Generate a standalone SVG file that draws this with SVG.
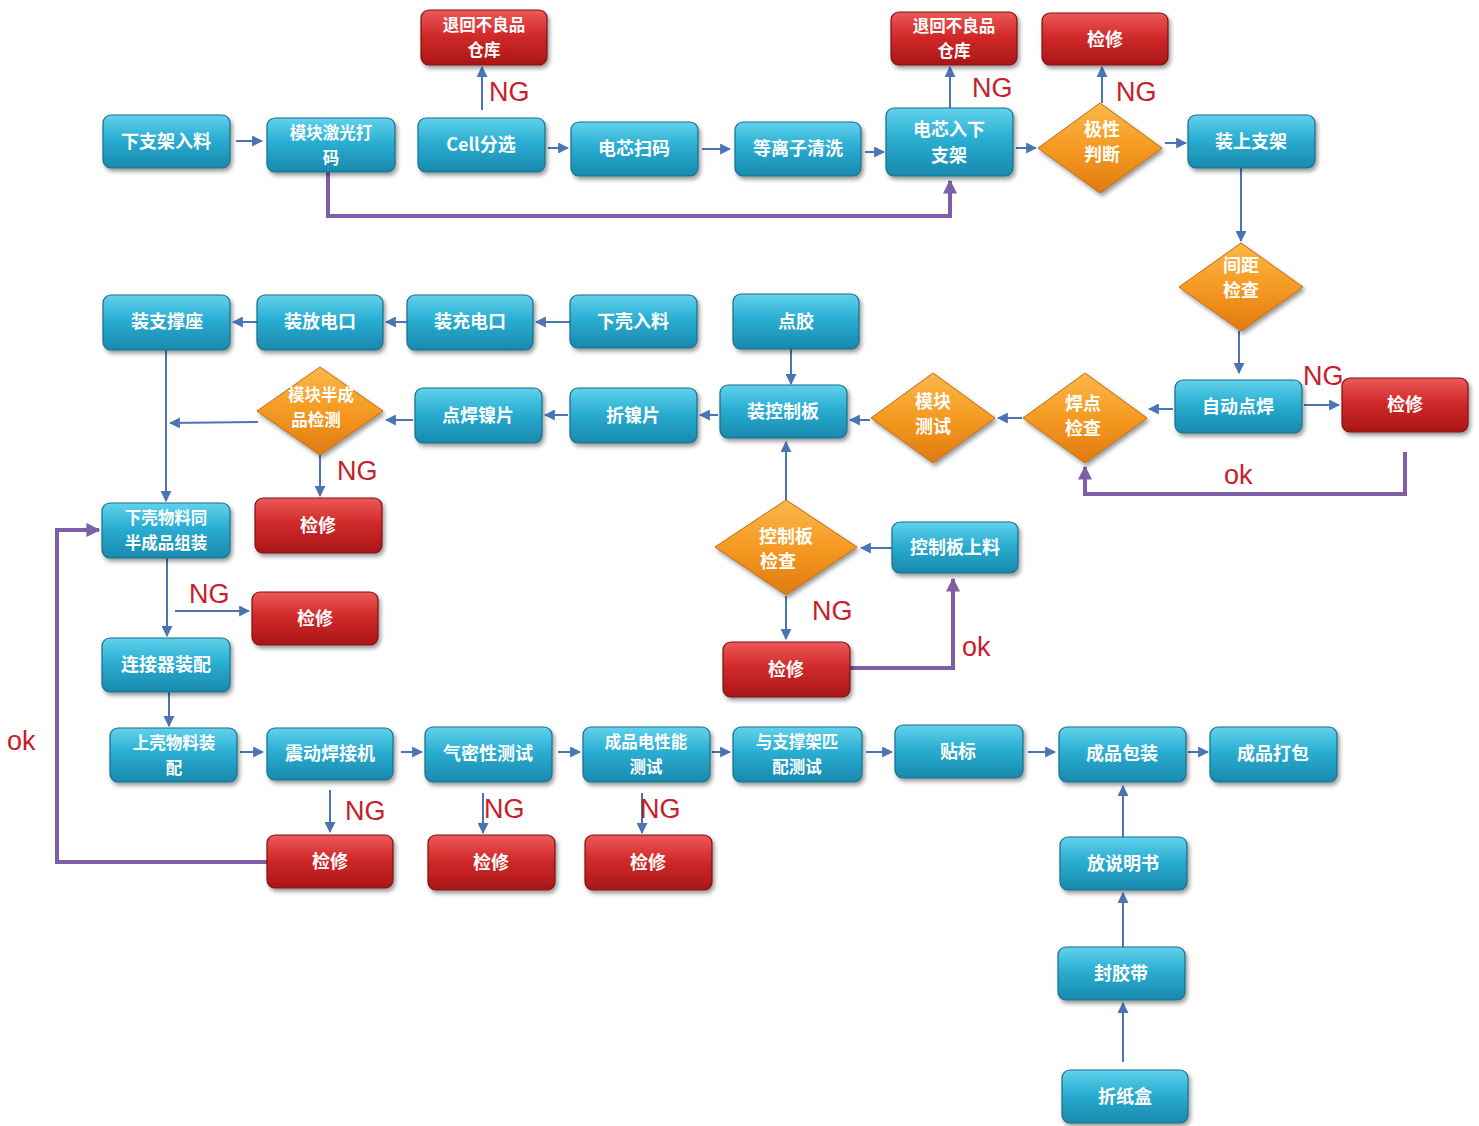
<svg xmlns="http://www.w3.org/2000/svg" width="1479" height="1126" viewBox="0 0 1479 1126">
<defs>
<linearGradient id="gT" x1="0" y1="0" x2="0" y2="1"><stop offset="0" stop-color="#62d2ec"/><stop offset="0.45" stop-color="#2aaed2"/><stop offset="1" stop-color="#1889ad"/></linearGradient>
<linearGradient id="gR" x1="0" y1="0" x2="0" y2="1"><stop offset="0" stop-color="#ec5a5a"/><stop offset="0.45" stop-color="#d22a2a"/><stop offset="1" stop-color="#a91616"/></linearGradient>
<linearGradient id="gO" x1="0" y1="0" x2="0" y2="1"><stop offset="0" stop-color="#fbb84a"/><stop offset="0.5" stop-color="#f59a22"/><stop offset="1" stop-color="#e07a10"/></linearGradient>
<filter id="sh" x="-20%" y="-20%" width="140%" height="150%"><feDropShadow dx="2" dy="3" stdDeviation="2" flood-color="#000" flood-opacity="0.4"/></filter>
<marker id="ab" viewBox="0 0 10 10" refX="9" refY="5" markerWidth="11" markerHeight="11" markerUnits="userSpaceOnUse" orient="auto"><path d="M0,0 L10,5 L0,10 z" fill="#4a74b4"/></marker>
<marker id="ap" viewBox="0 0 10 10" refX="9" refY="5" markerWidth="14" markerHeight="14" markerUnits="userSpaceOnUse" orient="auto"><path d="M0,0 L10,5 L0,10 z" fill="#7f5ea8"/></marker>
<style>
.t rect{fill:url(#gT);stroke:#1a6e8a;stroke-width:1.2;filter:url(#sh)}
.r rect{fill:url(#gR);stroke:#7e1010;stroke-width:1.2;filter:url(#sh)}
.d polygon{fill:url(#gO);stroke:#c06a10;stroke-width:1;filter:url(#sh)}
text.l{font-family:"Noto Sans CJK SC","Liberation Sans",sans-serif;font-size:18px;fill:#fff;text-anchor:middle;font-weight:bold}
text.s{font-size:16.5px}
.c line,.c path.b{stroke:#4a74b4;stroke-width:2;fill:none;marker-end:url(#ab)}
.c path.p{stroke:#7f5ea8;stroke-width:4;fill:none;marker-end:url(#ap)}
text.ng{font-family:"Liberation Sans",Arial,sans-serif;font-size:27px;fill:#c8202a}
</style>
</defs>
<rect width="1479" height="1126" fill="#fff"/>

<g id="connectors" class="c">
<line x1="236" y1="141" x2="262" y2="141"/>
<line x1="548" y1="148" x2="568" y2="148"/>
<line x1="702" y1="149" x2="730" y2="149"/>
<line x1="865" y1="152" x2="884" y2="152"/>
<line x1="1016" y1="148" x2="1036" y2="148"/>
<line x1="1165" y1="143" x2="1186" y2="143"/>
<line x1="482" y1="110" x2="482" y2="67"/>
<line x1="950" y1="108" x2="950" y2="67"/>
<line x1="1102" y1="103" x2="1102" y2="67"/>
<line x1="1241" y1="168" x2="1241" y2="241"/>
<line x1="1239" y1="331" x2="1239" y2="373"/>
<line x1="1304" y1="405" x2="1339" y2="405"/>
<line x1="1173" y1="409" x2="1149" y2="409"/>
<line x1="1022" y1="418" x2="998" y2="418"/>
<line x1="870" y1="420" x2="850" y2="420"/>
<line x1="791" y1="349" x2="791" y2="384"/>
<line x1="718" y1="415" x2="700" y2="415"/>
<line x1="568" y1="415" x2="545" y2="415"/>
<line x1="413" y1="420" x2="386" y2="420"/>
<line x1="258" y1="422" x2="170" y2="423"/>
<line x1="570" y1="322" x2="536" y2="322"/>
<line x1="407" y1="322" x2="386" y2="322"/>
<line x1="257" y1="322" x2="233" y2="322"/>
<line x1="166" y1="350" x2="166" y2="501"/>
<line x1="320" y1="455" x2="320" y2="496"/>
<line x1="786" y1="500" x2="786" y2="442"/>
<line x1="892" y1="548" x2="861" y2="548"/>
<line x1="786" y1="596" x2="786" y2="639"/>
<line x1="167" y1="558" x2="167" y2="636"/>
<line x1="175" y1="611" x2="249" y2="611"/>
<line x1="169" y1="692" x2="169" y2="726"/>
<line x1="240" y1="752" x2="263" y2="752"/>
<line x1="330" y1="790" x2="330" y2="832"/>
<line x1="401" y1="752" x2="422" y2="752"/>
<line x1="558" y1="752" x2="580" y2="752"/>
<line x1="483" y1="793" x2="483" y2="833"/>
<line x1="712" y1="752" x2="730" y2="752"/>
<line x1="642" y1="793" x2="642" y2="833"/>
<line x1="866" y1="752" x2="892" y2="752"/>
<line x1="1028" y1="752" x2="1055" y2="752"/>
<line x1="1188" y1="752" x2="1208" y2="752"/>
<line x1="1123" y1="837" x2="1123" y2="786"/>
<line x1="1123" y1="947" x2="1123" y2="893"/>
<line x1="1123" y1="1062" x2="1123" y2="1003"/>
<path class="p" d="M328,172 V216 H950 V181"/>
<path class="p" d="M1405,452 V494 H1085 V467"/>
<path class="p" d="M850,668 H953 V579"/>
<path class="p" d="M267,862 H57 V530 H99"/>
</g>

<g id="n1" class="t"><rect x="103" y="115" width="127" height="53" rx="8"/><text class="l" x="166" y="148">下支架入料</text></g>
<g id="n2" class="t"><rect x="267" y="118" width="128" height="54" rx="8"/><text class="l s" x="331" y="139">模块激光打</text><text class="l s" x="331" y="164">码</text></g>
<g id="n3" class="t"><rect x="418" y="118" width="127" height="54" rx="8"/><text class="l" x="481" y="151">Cell分选</text></g>
<g id="n4" class="t"><rect x="571" y="122" width="127" height="54" rx="8"/><text class="l" x="634" y="155">电芯扫码</text></g>
<g id="n5" class="t"><rect x="735" y="122" width="126" height="54" rx="8"/><text class="l" x="798" y="155">等离子清洗</text></g>
<g id="n6" class="t"><rect x="886" y="108" width="127" height="68" rx="8"/><text class="l" x="949" y="136">电芯入下</text><text class="l" x="949" y="162">支架</text></g>
<g id="n7" class="d"><polygon points="1100,103 1162,148 1100,193 1038,148"/><text class="l" x="1102" y="136">极性</text><text class="l" x="1102" y="161">判断</text></g>
<g id="n8" class="t"><rect x="1188" y="115" width="127" height="53" rx="8"/><text class="l" x="1251" y="148">装上支架</text></g>
<g id="n9" class="d"><polygon points="1241,243 1303,287 1241,331 1179,287"/><text class="l" x="1241" y="272">间距</text><text class="l" x="1241" y="297">检查</text></g>
<g id="r1" class="r"><rect x="421" y="10" width="126" height="55" rx="8"/><text class="l s" x="484" y="31">退回不良品</text><text class="l s" x="484" y="56">仓库</text></g>
<g id="r2" class="r"><rect x="891" y="12" width="126" height="53" rx="8"/><text class="l s" x="954" y="32">退回不良品</text><text class="l s" x="954" y="57">仓库</text></g>
<g id="r3" class="r"><rect x="1042" y="13" width="126" height="52" rx="8"/><text class="l" x="1105" y="46">检修</text></g>
<g id="n10" class="t"><rect x="1175" y="380" width="127" height="53" rx="8"/><text class="l" x="1238" y="413">自动点焊</text></g>
<g id="r4" class="r"><rect x="1342" y="378" width="126" height="54" rx="8"/><text class="l" x="1405" y="411">检修</text></g>
<g id="n11" class="d"><polygon points="1085,373 1147,418 1085,463 1023,418"/><text class="l" x="1083" y="410">焊点</text><text class="l" x="1083" y="435">检查</text></g>
<g id="n12" class="d"><polygon points="933,373 995,418 933,463 871,418"/><text class="l" x="933" y="408">模块</text><text class="l" x="933" y="433">测试</text></g>
<g id="n13" class="t"><rect x="720" y="385" width="127" height="53" rx="8"/><text class="l" x="783" y="418">装控制板</text></g>
<g id="n14" class="t"><rect x="733" y="294" width="126" height="55" rx="8"/><text class="l" x="796" y="328">点胶</text></g>
<g id="n15" class="t"><rect x="570" y="388" width="127" height="55" rx="8"/><text class="l" x="633" y="422">折镍片</text></g>
<g id="n16" class="t"><rect x="415" y="388" width="127" height="55" rx="8"/><text class="l" x="478" y="422">点焊镍片</text></g>
<g id="n17" class="d"><polygon points="320,367 383,411 320,455 257,411"/><text class="l s" x="321" y="401">模块半成</text><text class="l s" x="316" y="426">品检测</text></g>
<g id="r5" class="r"><rect x="255" y="498" width="127" height="55" rx="8"/><text class="l" x="318" y="532">检修</text></g>
<g id="n18" class="t"><rect x="570" y="295" width="127" height="53" rx="8"/><text class="l" x="633" y="328">下壳入料</text></g>
<g id="n19" class="t"><rect x="407" y="295" width="126" height="55" rx="8"/><text class="l" x="470" y="328">装充电口</text></g>
<g id="n20" class="t"><rect x="257" y="295" width="126" height="55" rx="8"/><text class="l" x="320" y="328">装放电口</text></g>
<g id="n21" class="t"><rect x="103" y="295" width="127" height="55" rx="8"/><text class="l" x="167" y="328">装支撑座</text></g>
<g id="n22" class="t"><rect x="102" y="503" width="128" height="55" rx="8"/><text class="l s" x="166" y="524">下壳物料同</text><text class="l s" x="166" y="549">半成品组装</text></g>
<g id="r6" class="r"><rect x="252" y="592" width="126" height="53" rx="8"/><text class="l" x="315" y="625">检修</text></g>
<g id="n23" class="t"><rect x="102" y="638" width="128" height="54" rx="8"/><text class="l" x="166" y="671">连接器装配</text></g>
<g id="n24" class="t"><rect x="110" y="728" width="127" height="54" rx="8"/><text class="l s" x="174" y="749">上壳物料装</text><text class="l s" x="174" y="774">配</text></g>
<g id="n25" class="t"><rect x="267" y="728" width="126" height="52" rx="8"/><text class="l" x="330" y="760">震动焊接机</text></g>
<g id="r8" class="r"><rect x="267" y="835" width="126" height="53" rx="8"/><text class="l" x="330" y="868">检修</text></g>
<g id="n26" class="t"><rect x="425" y="727" width="127" height="55" rx="8"/><text class="l" x="488" y="760">气密性测试</text></g>
<g id="r9" class="r"><rect x="428" y="835" width="127" height="55" rx="8"/><text class="l" x="491" y="869">检修</text></g>
<g id="n27" class="t"><rect x="583" y="727" width="127" height="55" rx="8"/><text class="l s" x="646" y="748">成品电性能</text><text class="l s" x="646" y="773">测试</text></g>
<g id="r10" class="r"><rect x="585" y="835" width="127" height="55" rx="8"/><text class="l" x="648" y="869">检修</text></g>
<g id="n28" class="t"><rect x="733" y="727" width="129" height="55" rx="8"/><text class="l s" x="797" y="748">与支撑架匹</text><text class="l s" x="797" y="773">配测试</text></g>
<g id="n29" class="t"><rect x="895" y="725" width="128" height="53" rx="8"/><text class="l" x="958" y="758">贴标</text></g>
<g id="n30" class="t"><rect x="1059" y="727" width="127" height="55" rx="8"/><text class="l" x="1122" y="760">成品包装</text></g>
<g id="n31" class="t"><rect x="1210" y="727" width="127" height="55" rx="8"/><text class="l" x="1273" y="760">成品打包</text></g>
<g id="n32" class="t"><rect x="1060" y="837" width="127" height="53" rx="8"/><text class="l" x="1123" y="870">放说明书</text></g>
<g id="n33" class="t"><rect x="1058" y="947" width="127" height="53" rx="8"/><text class="l" x="1121" y="980">封胶带</text></g>
<g id="n34" class="t"><rect x="1062" y="1070" width="126" height="53" rx="8"/><text class="l" x="1125" y="1103">折纸盒</text></g>
<g id="n35" class="t"><rect x="892" y="522" width="126" height="51" rx="8"/><text class="l" x="955" y="554">控制板上料</text></g>
<g id="n36" class="d"><polygon points="786,500 857,547 786,595 715,547"/><text class="l" x="786" y="543">控制板</text><text class="l" x="778" y="568">检查</text></g>
<g id="r7" class="r"><rect x="723" y="642" width="127" height="55" rx="8"/><text class="l" x="786" y="676">检修</text></g>

<g id="labels">
<text class="ng" x="489" y="101">NG</text>
<text class="ng" x="972" y="97">NG</text>
<text class="ng" x="1116" y="101">NG</text>
<text class="ng" x="1303" y="385">NG</text>
<text class="ng" x="337" y="480">NG</text>
<text class="ng" x="189" y="603">NG</text>
<text class="ng" x="812" y="620">NG</text>
<text class="ng" x="345" y="820">NG</text>
<text class="ng" x="484" y="818">NG</text>
<text class="ng" x="640" y="818">NG</text>
<text class="ng" x="1224" y="484">ok</text>
<text class="ng" x="962" y="656">ok</text>
<text class="ng" x="7" y="750">ok</text>
</g>
</svg>
